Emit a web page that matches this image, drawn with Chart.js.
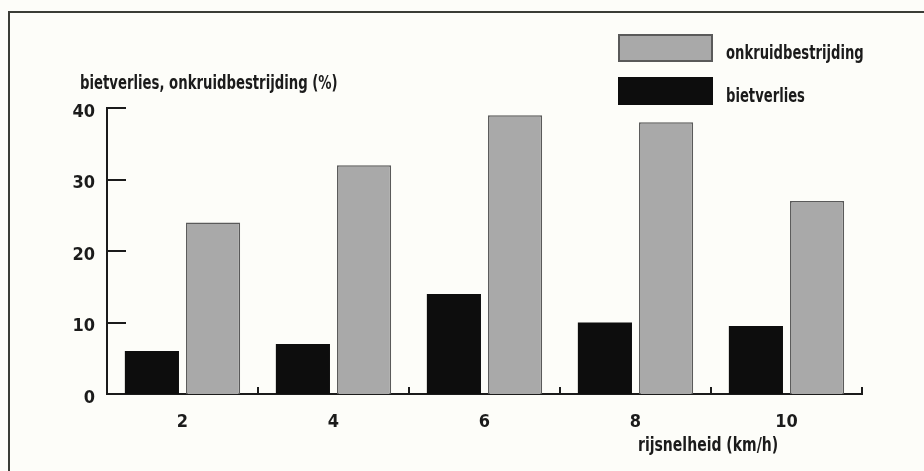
<!DOCTYPE html>
<html lang="nl">
<head>
<meta charset="UTF-8" />
<title>Bietverlies en onkruidbestrijding</title>
<script src="https://cdn.jsdelivr.net/npm/chart.js"></script>
<style>
  html, body { margin: 0; padding: 0; background: #fdfdf9; }
  canvas { display: block; }
</style>
</head>
<body>
<canvas id="chart" width="924" height="471"></canvas>
<script>
const speeds = ['2', '4', '6', '8', '10'];
const bietverlies = [6, 7, 14, 10, 9.5];
const onkruidbestrijding = [24, 32, 39, 38, 27];
const yTicks = [0, 10, 20, 30, 40];
const yTitle = 'bietverlies, onkruidbestrijding (%)';
const xTitle = 'rijsnelheid (km/h)';

const FONT = '"DejaVu Sans Condensed", "Liberation Sans", sans-serif';
const INK = '#1b1b1b';
const GREY = '#a9a9a9';
const GREY_EDGE = '#5a5a5a';

// the original lettering is a narrow grotesque, so squeeze the text a bit
function narrowText(ctx, text, x, y, squeeze) {
  ctx.save();
  ctx.translate(x, y);
  ctx.scale(squeeze, 1);
  ctx.fillText(text, 0, 0);
  ctx.restore();
}

// frame, titles, inward tick marks and the legend
const decor = {
  id: 'decor',
  afterDraw(chart) {
    const ctx = chart.ctx;
    const area = chart.chartArea;
    const x = chart.scales.x, y = chart.scales.y;
    ctx.save();

    // frame (only top and left edge visible)
    ctx.strokeStyle = '#3b3d37';
    ctx.lineWidth = 2;
    ctx.beginPath();
    ctx.moveTo(9, 471);
    ctx.lineTo(9, 12);
    ctx.lineTo(924, 12);
    ctx.stroke();

    // y ticks pointing into the plot
    ctx.strokeStyle = INK;
    ctx.lineWidth = 2;
    yTicks.slice(1).forEach(v => {
      const py = Math.round(y.getPixelForValue(v));
      ctx.beginPath();
      ctx.moveTo(area.left, py);
      ctx.lineTo(area.left + 19, py);
      ctx.stroke();
    });

    // x ticks between the groups, pointing up
    for (let i = 0; i < speeds.length; i++) {
      const px = i < speeds.length - 1
        ? (x.getPixelForValue(i) + x.getPixelForValue(i + 1)) / 2
        : area.right;
      ctx.beginPath();
      ctx.moveTo(Math.round(px), area.bottom);
      ctx.lineTo(Math.round(px), area.bottom - 7);
      ctx.stroke();
    }

    // titles
    ctx.fillStyle = INK;
    ctx.font = 'bold 19px ' + FONT;
    ctx.textBaseline = 'alphabetic';
    ctx.textAlign = 'left';
    narrowText(ctx, yTitle, 80, 89, 0.775);
    narrowText(ctx, xTitle, 638, 451, 0.82);

    // legend, onkruidbestrijding on top
    const items = chart.data.datasets.slice().reverse();
    items.forEach((ds, i) => {
      const bx = 618, by = 34 + i * 43, bw = 95, bh = 28;
      ctx.fillStyle = ds.backgroundColor;
      ctx.fillRect(bx, by, bw, bh);
      if (ds.borderWidth) {
        ctx.strokeStyle = ds.borderColor;
        ctx.lineWidth = 2;
        ctx.strokeRect(bx + 1, by + 1, bw - 2, bh - 2);
      }
      ctx.fillStyle = INK;
      narrowText(ctx, ds.label, 726, by + bh / 2 + 10.5, 0.77);
    });

    ctx.restore();
  }
};

new Chart(document.getElementById('chart'), {
  type: 'bar',
  data: {
    labels: speeds,
    datasets: [
      {
        label: 'bietverlies',
        data: bietverlies,
        backgroundColor: '#0d0d0d',
        borderWidth: 0,
        categoryPercentage: 0.81,
        barPercentage: 0.885
      },
      {
        label: 'onkruidbestrijding',
        data: onkruidbestrijding,
        backgroundColor: GREY,
        borderColor: GREY_EDGE,
        borderWidth: 1.5,
        categoryPercentage: 0.81,
        barPercentage: 0.885
      }
    ]
  },
  options: {
    responsive: false,
    animation: false,
    layout: { padding: { left: 0, top: 108, right: 62, bottom: 0 } },
    plugins: {
      legend: { display: false },
      tooltip: { enabled: false }
    },
    scales: {
      x: {
        grid: { display: false, drawTicks: false },
        border: { color: INK, width: 2 },
        ticks: { color: INK, font: { family: FONT, size: 18, weight: 'bold' }, padding: 18 },
        afterFit(scale) { scale.height = 77; }
      },
      y: {
        min: 0,
        max: 40,
        afterBuildTicks(scale) { scale.ticks = yTicks.map(v => ({ value: v })); },
        grid: { display: false, drawTicks: false },
        border: { color: INK, width: 2 },
        ticks: { color: INK, font: { family: FONT, size: 18, weight: 'bold' }, padding: 12, labelOffset: 4 },
        afterFit(scale) { scale.width = 107; }
      }
    }
  },
  plugins: [decor]
});
</script>
</body>
</html>
